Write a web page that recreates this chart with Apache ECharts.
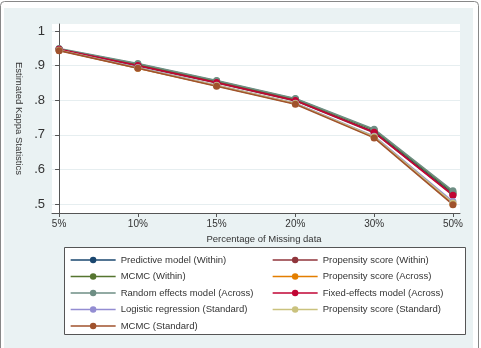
<!DOCTYPE html>
<html>
<head>
<meta charset="utf-8">
<script src="https://cdn.jsdelivr.net/npm/echarts@6/dist/echarts.min.js"></script>
<style>
  html, body { margin: 0; padding: 0; background: #fff; }
  #chart { width: 481px; height: 348px; }
</style>
</head>
<body>
<div id="chart"></div>
<script>
// categories on the x axis
var categories = ["5%", "10%", "15%", "20%", "30%", "50%"];
var yTicks = [0.5, 0.6, 0.7, 0.8, 0.9, 1];

// series values
var predictiveWithin = [0.947, 0.901, 0.852, 0.800, 0.709, 0.530];
var propensityWithin = [0.946, 0.899, 0.850, 0.798, 0.706, 0.527];
var mcmcWithin = [0.948, 0.904, 0.855, 0.803, 0.714, 0.535];
var propensityAcross = [0.944, 0.892, 0.842, 0.790, 0.693, 0.500];
var randomEffects = [0.949, 0.906, 0.857, 0.805, 0.716, 0.538];
var fixedEffects = [0.947, 0.900, 0.851, 0.799, 0.707, 0.525];
var logisticStandard = [0.944, 0.894, 0.843, 0.791, 0.696, 0.507];
var propensityStandard = [0.944, 0.893, 0.842, 0.790, 0.694, 0.503];
var mcmcStandard = [0.943, 0.892, 0.840, 0.788, 0.691, 0.498];

var seriesNames = [
  "Predictive model (Within)", "Propensity score (Within)",
  "MCMC (Within)", "Propensity score (Across)",
  "Random effects model (Across)", "Fixed-effects model (Across)",
  "Logistic regression (Standard)", "Propensity score (Standard)",
  "MCMC (Standard)"
];
var seriesValues = [
  predictiveWithin, propensityWithin, mcmcWithin, propensityAcross,
  randomEffects, fixedEffects, logisticStandard, propensityStandard, mcmcStandard
];
// stata s2color palette
var colors = ["#1a476f", "#90353b", "#55752f", "#e37e00", "#6e8e84",
  "#c10534", "#938dd2", "#cac27e", "#a0522d"];

var myChart = echarts.init(document.getElementById("chart"));

var series = seriesNames.map(function (name, i) {
  return {
    name: name,
    type: "line",
    symbol: "circle",
    symbolSize: 7,
    color: colors[i],
    lineStyle: { width: 1.6 },
    data: seriesValues[i].map(function (v, j) { return [j, v]; }),
  };
});

var leftNames = [seriesNames[0], seriesNames[2], seriesNames[4], seriesNames[6], seriesNames[8]];
var rightNames = [seriesNames[1], seriesNames[3], seriesNames[5], seriesNames[7]];

var legendBase = {
  orient: "vertical",
  top: 254,
  height: 90,
  padding: 0,
  itemWidth: 45,
  itemHeight: 8,
  itemGap: 4.5,
  lineStyle: { width: 1.3 },
  textStyle: { fontSize: 9.5, color: "#333", fontFamily: "Liberation Sans, Arial", lineHeight: 12 },
  selectedMode: false,
};

var option = {
  backgroundColor: "#fff",
  animation: false,
  textStyle: { fontFamily: "Liberation Sans, Arial" },
  graphic: [
    {
      type: "rect", z: -10,
      shape: { x: 0.5, y: 1.5, width: 478, height: 360, r: 4 },
      style: { fill: "#fff", stroke: "#888", lineWidth: 1 },
    },
    {
      type: "rect", z: -9,
      shape: { x: 4, y: 8, width: 469, height: 340 },
      style: { fill: "#eaf2f3" },
    },
    {
      type: "rect", z: -8,
      shape: { x: 64.5, y: 247.5, width: 401, height: 87 },
      style: { fill: "#fff", stroke: "#555", lineWidth: 1 },
    },
  ],
  grid: {
    left: 52, right: 21, top: 24, bottom: 135,
    show: true, backgroundColor: "#fff", borderWidth: 0,
  },
  legend: [
    Object.assign({}, legendBase, { left: 70, data: leftNames }),
    Object.assign({}, legendBase, { left: 272, data: rightNames }),
  ],
  xAxis: {
    type: "value",
    min: -0.09,
    max: 5.09,
    name: "Percentage of Missing data",
    nameLocation: "middle",
    nameGap: 21,
    nameTextStyle: { fontSize: 9.5, color: "#333", padding: [0, 0, 0, 16] },
    splitLine: { show: false },
    axisLine: { lineStyle: { color: "#555" } },
    axisTick: { length: 4, lineStyle: { color: "#555" }, customValues: [0, 1, 2, 3, 4, 5] },
    axisLabel: {
      fontSize: 10, color: "#333", margin: 6,
      customValues: [0, 1, 2, 3, 4, 5],
      formatter: function (v) { return categories[Math.round(v)]; },
    },
  },
  yAxis: {
    type: "value",
    min: 0.474,
    max: 1.02,
    name: "Estimated Kappa Statistics",
    nameLocation: "middle",
    nameRotate: -90,
    nameGap: 28,
    nameTextStyle: { fontSize: 9.5, color: "#333" },
    axisLine: { show: true, lineStyle: { color: "#555" } },
    axisTick: { show: true, length: 4, lineStyle: { color: "#555" }, customValues: yTicks },
    axisLabel: {
      fontSize: 13, color: "#333", margin: 7,
      customValues: yTicks,
      formatter: function (v) {
        if (Math.abs(v - 1) < 1e-6) return "1";
        return "." + Math.round(v * 10);
      },
    },
    splitLine: { show: true, lineStyle: { color: "#e6eef0", width: 1 } },
  },
  series: series,
};

myChart.setOption(option);
</script>
</body>
</html>
